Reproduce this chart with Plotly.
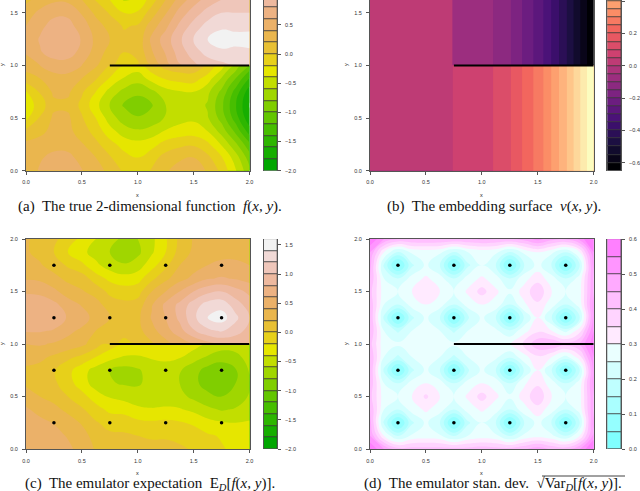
import colorsys

import plotly.colors as pc
import plotly.graph_objects as go

W = 640
H = 491

grid_x = [0, .125, .25, .375, .5, .625, .75, .875, 1, 1.125, 1.25, 1.375, 1.5, 1.625, 1.75, 1.875, 2]

# true function; row pair at y=1 carries the jump
a_y = [0, .125, .25, .375, .5, .625, .75, .875, .999, 1.001, 1.125, 1.25, 1.375, 1.5, 1.625]
a_z = [
    [.30, .42, .52, .52, .41, .28, .15, -.03, -.12, .02, .18, .28, .32, .18, -.05, -.38, -.75],
    [.28, .38, .45, .45, .34, .2, .02, -.12, -.2, -.08, .08, .17, .2, .05, -.18, -.5, -.9],
    [.25, .28, .34, .33, .22, .05, -.12, -.28, -.33, -.27, -.12, -.05, -.03, -.15, -.42, -.75, -1.15],
    [.05, .15, .26, .26, .1, -.08, -.32, -.5, -.57, -.52, -.38, -.32, -.3, -.4, -.68, -1.05, -1.5],
    [-.25, .02, .24, .24, .02, -.2, -.5, -.7, -.78, -.72, -.58, -.47, -.44, -.58, -.88, -1.3, -1.75],
    [-.33, -.1, .15, .15, -.05, -.33, -.62, -.82, -.92, -.82, -.6, -.52, -.5, -.62, -.95, -1.38, -1.82],
    [-.22, .02, .24, .24, .03, -.2, -.48, -.66, -.75, -.65, -.48, -.42, -.4, -.55, -.85, -1.28, -1.72],
    [.1, .2, .32, .33, .2, .02, -.22, -.42, -.52, -.32, -.18, -.12, -.1, -.3, -.62, -1.0, -1.42],
    [.3, .4, .5, .5, .4, .23, 0, -.2, -.28, -.05, .08, .14, .13, 0, -.3, -.65, -1.05],
    [.3, .4, .5, .5, .4, .23, .03, -.08, -.03, .23, .5, .78, .95, 1.07, 1.14, 1.2, 1.2],
    [.42, .58, .7, .7, .53, .32, .12, 0, .05, .38, .62, .9, 1.1, 1.28, 1.36, 1.36, 1.37],
    [.45, .62, .76, .77, .58, .35, .2, .05, .05, .45, .7, .96, 1.22, 1.4, 1.5, 1.45, 1.47],
    [.4, .55, .68, .68, .5, .3, .12, -.02, .02, .3, .55, .85, 1.08, 1.28, 1.36, 1.36, 1.35],
    [.3, .45, .55, .55, .38, .15, -.02, -.2, -.17, .1, .38, .68, .9, 1.08, 1.2, 1.2, 1.2],
    [.15, .28, .36, .35, .2, -.02, -.2, -.42, -.38, -.1, .2, .48, .7, .88, 1.0, 1.0, 1.0],
]

# embedding surface, only depends on x
b_x = [0, .73, .74, 1.10, 1.26, 1.36, 1.46, 1.55, 1.62, 1.69, 1.76, 1.82, 1.88, 1.94, 2]
b_lower = [.025, .025, .05, .10, .15, .20, .25, .30, .35, .40, .45, .50, .55, .60, .649]
b_upper = [.025, .025, -.05, -.10, -.15, -.20, -.25, -.30, -.35, -.40, -.45, -.50, -.55, -.60, -.649]
b_y = [0, .999, 1.001, 2]

c_y = [0, .125, .25, .375, .5, .625, .75, .875, .999, 1.001, 1.125, 1.25, 1.375, 1.5, 1.625, 1.75, 1.875, 2]
c_z = [
    [.58, .55, .52, .45, .32, .18, .1, .07, .05, .05, .05, .03, -.02, -.1, -.18, -.25, -.3],
    [.55, .52, .48, .38, .28, .12, .04, .03, 0, -.02, -.02, -.05, -.1, -.17, -.22, -.28, -.32],
    [.5, .46, .39, .3, .18, .02, -.07, -.08, -.15, -.17, -.15, -.18, -.23, -.33, -.38, -.4, -.38],
    [.43, .33, .26, .15, .03, -.12, -.25, -.27, -.35, -.38, -.37, -.38, -.45, -.55, -.62, -.58, -.5],
    [.3, .2, .13, 0, -.13, -.3, -.42, -.47, -.53, -.53, -.5, -.54, -.65, -.75, -.8, -.72, -.58],
    [.17, .12, .04, -.12, -.3, -.5, -.58, -.62, -.62, -.55, -.52, -.6, -.75, -.88, -.92, -.8, -.6],
    [.17, .13, .02, -.14, -.32, -.48, -.6, -.68, -.63, -.5, -.46, -.58, -.72, -.88, -.95, -.82, -.58],
    [.26, .25, .16, .05, -.05, -.2, -.33, -.42, -.42, -.38, -.37, -.38, -.52, -.62, -.7, -.66, -.52],
    [.4, .42, .38, .33, .25, .1, -.1, -.2, -.25, -.22, -.2, -.2, -.3, -.42, -.5, -.5, -.45],
    [.4, .42, .38, .33, .25, .1, .05, -.05, .02, .17, .33, .47, .6, .72, .8, .82, .8],
    [.62, .62, .58, .45, .36, .2, .1, .06, .13, .33, .52, .72, .98, 1.15, 1.22, 1.1, .92],
    [.72, .78, .73, .58, .5, .32, .2, .12, .15, .42, .6, .85, 1.15, 1.4, 1.5, 1.25, 1.0],
    [.7, .72, .65, .5, .38, .28, .1, .05, .08, .38, .65, .85, 1.1, 1.28, 1.32, 1.1, .9],
    [.58, .55, .45, .3, .22, .12, -.05, -.1, -.08, .2, .4, .6, .8, .95, 1.0, .88, .75],
    [.38, .36, .26, .15, .1, -.1, -.25, -.32, -.28, -.05, .15, .33, .45, .58, .62, .58, .52],
    [.27, .22, .12, -.03, -.15, -.35, -.5, -.58, -.5, -.28, -.05, .2, .32, .4, .45, .45, .4],
    [.22, .15, 0, -.2, -.35, -.48, -.6, -.72, -.65, -.43, -.2, .08, .24, .3, .33, .33, .3],
    [.22, .15, .05, -.1, -.25, -.4, -.52, -.65, -.6, -.45, -.22, .05, .22, .28, .3, .3, .28],
]

d_z = [
    [.6, .5, .42, .42, .42, .42, .42, .42, .43, .42, .42, .44, .48, .44, .43, .5, .62],
    [.5, .3, .19, .26, .27, .26, .19, .25, .27, .26, .19, .26, .28, .26, .2, .3, .52],
    [.47, .19, .02, .19, .26, .2, .02, .19, .25, .2, .02, .19, .27, .19, .02, .2, .52],
    [.45, .25, .2, .27, .31, .27, .2, .27, .31, .27, .2, .28, .33, .27, .2, .27, .5],
    [.42, .27, .25, .3, .36, .3, .25, .31, .37, .31, .26, .32, .39, .3, .25, .28, .5],
    [.44, .25, .2, .27, .3, .27, .2, .27, .3, .28, .2, .29, .34, .27, .2, .27, .52],
    [.45, .19, .02, .19, .26, .2, .02, .19, .26, .2, .02, .2, .3, .2, .02, .2, .52],
    [.45, .25, .19, .25, .28, .25, .19, .25, .28, .26, .21, .28, .34, .3, .23, .33, .55],
    [.42, .26, .26, .28, .3, .29, .26, .27, .3, .29, .3, .36, .44, .45, .42, .46, .58],
    [.42, .26, .26, .28, .3, .29, .26, .27, .3, .29, .3, .36, .44, .45, .42, .46, .58],
    [.45, .25, .19, .25, .28, .25, .19, .25, .28, .26, .21, .28, .34, .3, .23, .33, .55],
    [.45, .19, .02, .19, .26, .2, .02, .19, .26, .2, .02, .2, .3, .2, .02, .2, .52],
    [.44, .25, .2, .27, .3, .27, .2, .27, .3, .28, .2, .29, .34, .27, .2, .27, .52],
    [.42, .27, .25, .3, .35, .3, .25, .31, .37, .31, .26, .32, .39, .3, .25, .28, .5],
    [.45, .25, .2, .27, .31, .27, .2, .27, .31, .27, .2, .28, .33, .27, .2, .27, .5],
    [.47, .19, .02, .19, .26, .2, .02, .19, .25, .2, .02, .19, .27, .19, .02, .2, .52],
    [.5, .3, .19, .26, .27, .26, .19, .25, .27, .26, .19, .26, .3, .26, .2, .3, .55],
    [.6, .5, .45, .45, .45, .45, .45, .45, .46, .45, .45, .47, .52, .47, .46, .52, .62],
]

design_x = [.25, .75, 1.25, 1.75]
design_y = [.25, .75, 1.25, 1.75]
line_x = [.75, 2]
line_y = [1, 1]


def hsv_hex(h, s, v):
    r, g, b = colorsys.hsv_to_rgb(h, s, v)
    return "#%02x%02x%02x" % (round(r * 255), round(g * 255), round(b * 255))


def lin(a, b, n):
    return [a + (b - a) * i / (n - 1) for i in range(n)]


def terrain_colors(n):
    k = n // 2
    out = [hsv_hex(h, s, v) for h, s, v in zip(lin(4 / 12, 2 / 12, k), [1] * k, lin(.65, .9, k))]
    m = n - k + 1
    out += [hsv_hex(h, s, v) for h, s, v in list(zip(lin(2 / 12, 0, m), lin(1, 0, m), lin(.9, .95, m)))[1:]]
    return out


def cm_colors(n):
    k = n // 2
    out = [hsv_hex(.5, s, 1) for s in lin(.5, .5 / k, k)]
    out += [hsv_hex(10 / 12, s, 1) for s in lin(0, .5, k + 1)[1:]]
    return out


terrain = terrain_colors(18)
magma = pc.sample_colorscale("Magma", [i / 25 for i in range(26)], colortype="rgb")
cyan_magenta = cm_colors(12)

AXIS_COL = "#555555"
TICK_FONT = dict(family="Liberation Sans", size=5.5, color="#333333")

fig = go.Figure()


def band_scale(cols):
    # plotly colours the band above level i at position (i+1)/n when there are n levels
    n = len(cols)
    return [[0, cols[0]]] + [[(i + 1) / n, c] for i, c in enumerate(cols)]


def add_panel(idx, left, right, top, bottom, x, y, z, ymax, cols, lo, step, cb_left, cb_right, cb_top, cb_ticks, dots,
              smooth=1.3):
    # px positions come in from the top-left of the page
    xa, ya = "x%d" % (2 * idx - 1), "y%d" % (2 * idx - 1)
    xb, yb = "x%d" % (2 * idx), "y%d" % (2 * idx)
    last = lo + step * (len(cols) - 1)
    fig.add_trace(go.Contour(
        x=x, y=y, z=z, xaxis=xa, yaxis=ya, showscale=False, autocontour=False,
        colorscale=band_scale(cols),
        contours=dict(coloring="fill", start=lo, end=last, size=step, showlines=False),
        line=dict(width=0, smoothing=smooth), hoverinfo="skip",
    ))
    fig.add_trace(go.Scatter(x=line_x, y=line_y, xaxis=xa, yaxis=ya, mode="lines",
                             line=dict(color="black", width=2), showlegend=False))
    if dots:
        px = [a for b in design_y for a in design_x]
        py = [b for b in design_y for a in design_x]
        fig.add_trace(go.Scatter(x=px, y=py, xaxis=xa, yaxis=ya, mode="markers",
                                 marker=dict(color="black", size=3.5), showlegend=False))
    edges = [lo + step * i for i in range(len(cols))]
    fig.add_trace(go.Bar(x=[0] * len(cols), y=[step] * len(cols), base=edges, xaxis=xb, yaxis=yb, width=1,
                         marker=dict(color=cols, line=dict(color="#333333", width=.7)), showlegend=False))
    dom_y = [1 - bottom / H, 1 - top / H]
    common = dict(showline=True, linecolor=AXIS_COL, linewidth=1, ticks="outside", ticklen=3, tickwidth=.7,
                  tickcolor=AXIS_COL, tickfont=TICK_FONT, showgrid=False, zeroline=False, tickformat=".1f",
                  automargin=False)
    fig.update_layout({
        "xaxis%d" % (2 * idx - 1): dict(domain=[left / W, right / W], range=[0, 2], anchor=ya, mirror=True,
                                        tickvals=[0, .5, 1, 1.5, 2], ticklabelstandoff=3, **common),
        "yaxis%d" % (2 * idx - 1): dict(domain=dom_y, range=[0, ymax], anchor=xa, mirror=True,
                                        tickvals=[0, .5, 1, 1.5, 2], ticklabelstandoff=3, **common),
        "xaxis%d" % (2 * idx): dict(domain=[cb_left / W, cb_right / W], range=[-.5, .5], anchor=yb, visible=False,
                                    automargin=False),
        "yaxis%d" % (2 * idx): dict(domain=dom_y, range=[lo, cb_top], anchor=xb, side="right", mirror=True,
                                    tickvals=cb_ticks, ticklabelstandoff=3, **common),
    })


add_panel(1, 26, 249.5, 0, 170.7, grid_x, a_y, a_z, 1.622, terrain, -2, .2, 263.5, 277, .926,
          [-2, -1.5, -1, -.5, 0, .5], False)
add_panel(2, 370, 593.7, 0, 170.7, b_x, b_y, [b_lower, b_lower, b_upper, b_upper], 1.622, magma, -.65, .05,
          607.3, 621, .407, [-.6, -.4, -.2, 0, .2, .4], False, smooth=0)
add_panel(3, 26, 249.5, 239, 449, grid_x, c_y, c_z, 2, terrain, -2, .2, 263.5, 277, 1.6,
          [-2, -1.5, -1, -.5, 0, .5, 1, 1.5], True)
add_panel(4, 370, 593.7, 239, 449, grid_x, c_y, d_z, 2, cyan_magenta, 0, .05, 607.3, 621, .6,
          [0, .1, .2, .3, .4, .5, .6], True)


def note(px, py, text, size, family="Liberation Sans", angle=0, color="#222222"):
    fig.add_annotation(x=px / W, y=1 - py / H, xref="paper", yref="paper", text=text, showarrow=False,
                       textangle=angle, font=dict(family=family, size=size, color=color),
                       xanchor="center", yanchor="middle")


for cx, cy in [(137.5, 195), (481.5, 195), (137.5, 473), (481.5, 473)]:
    note(cx, cy, "x", 5.5)
for cx, cy in [(2, 65), (346, 65), (2, 344), (346, 344)]:
    note(cx, cy, "y", 5.5, angle=-90)

SERIF = "Liberation Serif"
note(150, 207, "(a)  The true 2-dimensional function  <i>f</i>(<i>x, y</i>).", 15, SERIF, color="#111111")
note(494, 207, "(b)  The embedding surface  <i>v</i>(<i>x, y</i>).", 15, SERIF, color="#111111")
note(150, 483.5, "(c)  The emulator expectation  E<sub><i>D</i></sub>[<i>f</i>(<i>x, y</i>)].", 15, SERIF, color="#111111")
note(493, 483.5, "(d)  The emulator stan. dev.  √Var<sub><i>D</i></sub>[<i>f</i>(<i>x, y</i>)].", 15, SERIF, color="#111111")
fig.add_shape(type="line", xref="paper", yref="paper", x0=542 / W, x1=625 / W, y0=1 - 476 / H, y1=1 - 476 / H,
              line=dict(color="#111111", width=.8))

fig.update_layout(width=W, height=H, margin=dict(l=0, r=0, t=0, b=0), paper_bgcolor="white", plot_bgcolor="white",
                  showlegend=False, barmode="overlay", bargap=0)

# browser default body margin would push the figure off the page
fig.write_html("out.html", config=dict(displayModeBar=False), post_script="document.body.style.margin='0';")
